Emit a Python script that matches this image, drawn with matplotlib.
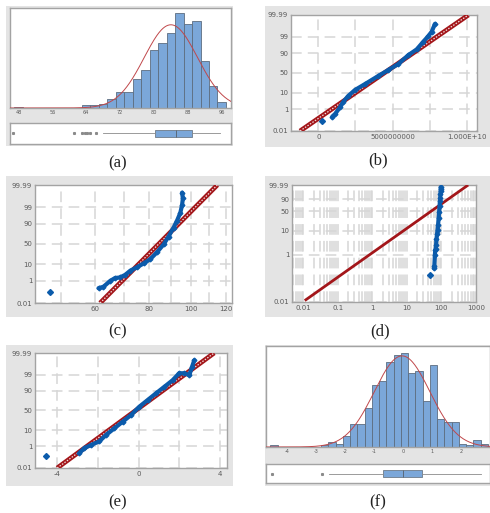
import numpy as np
import matplotlib
matplotlib.use("Agg")
import matplotlib.pyplot as plt
from matplotlib.patches import Rectangle
from matplotlib.ticker import NullFormatter, NullLocator, LogLocator
from statistics import NormalDist

# ---------------- data ----------------
# (a) histogram of the raw sample
a_bin_left = [47, 63, 65, 67, 69, 71, 73, 75, 77, 79, 81, 83, 85, 87, 89, 91, 93, 95]
a_counts = [1, 2, 2, 3, 7, 12, 12, 22, 29, 45, 50, 58, 73, 65, 67, 36, 17, 5]
a_bin_width = 2.0
a_fit_mean, a_fit_sd = 84.0, 6.3
a_xticks = [48, 56, 64, 72, 80, 88, 96]
a_box = {"whislo": 67.9, "q1": 80.2, "med": 85.1, "q3": 89.1, "whishi": 95.5}
a_outliers = [46.8, 61.2, 63.0, 63.8, 64.3, 64.9, 66.4]

# (b) normal probability plot (transformed sample)
b_outlier_value, b_outlier_pct = 2.3e8, 0.11
b_values = [9.4e8, 1.13e9, 1.46e9, 1.69e9, 2.02e9, 2.47e9, 3.15e9, 4.04e9, 4.72e9,
            5.39e9, 6.07e9, 6.63e9, 7.08e9, 7.41e9, 7.64e9, 7.86e9]
b_pct = [0.26, 0.43, 1.4, 3.3, 7.1, 13.8, 24, 42.5, 57.6, 71.9, 87.5, 93.5, 97.8,
         99.1, 99.6, 99.92]
b_ref_values = [-1.23e9, 1.011e10]
b_ref_pct = [0.01, 99.99]
b_xticks = [0, 5e9, 1e10]
b_xticklabels = ["0", "5000000000", "1.000E+10"]
b_xgrid_minor = [2.5e9, 7.5e9]

# (c) lognormal and (d) Weibull probability plots of the raw sample
cd_outlier_value, cd_outlier_pct = 47.2, 0.135
cd_values = [61.1, 62.7, 65.0, 66.7, 68.5, 70.4, 72.3, 74.9, 77.6, 80.4, 83.3, 86.3,
             88.6, 91.0, 92.7, 94.3, 95.2, 95.6, 95.2]
cd_pct = [0.27, 0.35, 1.0, 1.6, 1.75, 2.6, 4.6, 7.1, 11, 17, 30, 49, 68, 85, 93,
          97.5, 99.3, 99.8, 99.94]
c_ref_values = [61.6, 114.8]
c_ref_pct = [0.01, 99.99]
c_xticks = [60, 80, 100, 120]
c_xgrid_minor = [50, 70, 90, 110]
d_ref_values = [0.011, 600]
d_ref_pct = [0.0115, 99.99]
d_xticks = [0.01, 0.1, 1, 10, 100, 1000]
d_xticklabels = ["0.01", "0.1", "1", "10", "100", "1000"]

# (e) normal probability plot of the standardized sample
e_outlier_value, e_outlier_pct = -4.54, 0.15
e_values = [-2.91, -2.66, -2.33, -1.93, -1.60, -1.19, -0.78, -0.37, 0.03, 0.44, 0.85,
            1.26, 1.67, 1.99, 2.24, 2.49, 2.62, 2.73]
e_pct = [0.3, 0.75, 1.3, 2.3, 5.7, 12.5, 23.6, 38.6, 59.5, 75, 86.6, 93.7, 97.5,
         99.2, 99.2, 98.9, 99.76, 99.94]
e_ref_values = [-4.0, 3.71]
e_ref_pct = [0.01, 99.99]
e_xticks = [-4, 0, 4]

# (f) histogram of the standardized sample
f_bin_left = [-4.57, -4.32, -4.07, -3.82, -3.57, -3.32, -3.07, -2.82, -2.57, -2.32,
              -2.07, -1.82, -1.57, -1.32, -1.07, -0.82, -0.57, -0.32, -0.07, 0.18,
              0.43, 0.68, 0.93, 1.18, 1.43, 1.68, 1.93, 2.18, 2.43, 2.68]
f_counts = [1, 0, 0, 0, 0, 0, 0, 1, 3, 2, 7, 14, 14, 24, 38, 40, 52, 56, 57, 45,
            46, 28, 50, 17, 15, 15, 2, 1, 4, 2]
f_bin_width = 0.25
f_fit_mean, f_fit_sd = -0.03, 0.96
f_xticks = [-4, -3, -2, -1, 0, 1, 2]
f_box = {"whislo": -2.56, "q1": -0.69, "med": 0.0, "q3": 0.665, "whishi": 2.69}
f_outliers = [-4.5, -2.78]

normal_pct_ticks = [0.01, 1, 10, 50, 90, 99, 99.99]
normal_pct_labels = ["0.01", "1", "10", "50", "90", "99", "99.99"]
weibull_pct_ticks = [0.01, 1, 10, 50, 90, 99.99]
weibull_pct_labels = ["0.01", "1", "10", "50", "90", "99.99"]

# ---------------- style ----------------
W, H = 490, 513
BG = "#e4e4e4"
BAR = "#7ba7d9"
BAR_EDGE = "#5d6d80"
CURVE = "#c0474a"
BLUE = "#0b5bab"
RED = "#a3161a"
GRID = "#d6d6d6"
SPINE = "#a3a3a3"
TICKC = "#5a5a5a"

fig = plt.figure(figsize=(W / 100, H / 100), dpi=100)
fig.patch.set_facecolor("white")


def rect(x0, y0, x1, y1):
    return [x0 / W, 1 - y1 / H, (x1 - x0) / W, (y1 - y0) / H]


def background(x0, y0, x1, y1):
    r = rect(x0, y0, x1, y1)
    fig.add_artist(Rectangle((r[0], r[1]), r[2], r[3], transform=fig.transFigure,
                             facecolor=BG, edgecolor="none", zorder=-10))


def label(x, y, s):
    fig.text(x / W, 1 - y / H, s, ha="center", va="center", fontsize=12,
             family=["Liberation Serif", "DejaVu Serif"], color="#222222")


_std = NormalDist()


def p2z(p):
    p = np.clip(np.asarray(p, dtype=float), 1e-6, 100 - 1e-6)
    return np.vectorize(lambda v: _std.inv_cdf(v / 100.0), otypes=[float])(p)


def z2p(z):
    z = np.asarray(z, dtype=float)
    return np.vectorize(lambda v: 100.0 * _std.cdf(v), otypes=[float])(z)


def p2w(p):
    q = np.clip(np.asarray(p, dtype=float) / 100.0, 1e-9, 1 - 1e-9)
    return np.log(-np.log1p(-q))


def w2p(w):
    w = np.clip(np.asarray(w, dtype=float), -50, 5)
    return 100.0 * (-np.expm1(-np.exp(w)))


def style_axes(ax, labelsize):
    ax.set_facecolor("white")
    for sp in ax.spines.values():
        sp.set_color(SPINE)
        sp.set_linewidth(1.0)
    ax.tick_params(which="both", length=0, labelsize=labelsize, labelcolor=TICKC, pad=2)


def hist_panel(bg, hrect, brect, left, counts, width, mean, sd, xlim, ytop, xticks,
               box, outliers, box_width):
    background(*bg)
    ax = fig.add_axes(rect(*hrect))
    style_axes(ax, 3.6)
    ax.bar(left, counts, width=width, align="edge", color=BAR, edgecolor=BAR_EDGE,
           linewidth=0.6, zorder=2)
    nd = NormalDist(mean, sd)
    xs = np.linspace(xlim[0], xlim[1], 400)
    total = sum(counts)
    ys = [total * width * nd.pdf(x) for x in xs]
    ax.plot(xs, ys, color=CURVE, lw=0.7, zorder=3)
    ax.set_xlim(*xlim)
    ax.set_ylim(0, ytop)
    ax.set_yticks([])
    ax.set_xticks(xticks, [str(t) for t in xticks])
    ax.tick_params(pad=1.5)

    bx = fig.add_axes(rect(*brect))
    style_axes(bx, 4)
    stats = dict(box)
    stats["fliers"] = outliers
    bx.bxp([stats], positions=[1], widths=box_width, orientation="horizontal",
           patch_artist=True, showcaps=False,
           boxprops=dict(facecolor=BAR, edgecolor="#6d7a88", linewidth=0.6),
           medianprops=dict(color="#55606c", linewidth=0.6),
           whiskerprops=dict(color="#8a8a8a", linewidth=0.6),
           flierprops=dict(marker="s", markersize=1.2, markerfacecolor="#8a8a8a",
                           markeredgecolor="#8a8a8a"))
    bx.set_xlim(*xlim)
    bx.set_ylim(0.5, 1.5)
    bx.set_xticks([])
    bx.set_yticks([])


def prob_axes(r, funcs, yticks, ylabels):
    ax = fig.add_axes(rect(*r))
    style_axes(ax, 5)
    ax.set_yscale("function", functions=funcs)
    ax.set_ylim(0.01, 99.99)
    ax.set_yticks(yticks, ylabels)
    ax.yaxis.set_minor_locator(NullLocator())
    ax.set_axisbelow(True)
    return ax


def grid(ax):
    ax.grid(True, which="both", color=GRID, lw=1.1, ls=(0, (7, 4)))


def ref_line(ax, xs, ps, lw=3.4, hatched=True):
    ax.plot(xs, ps, color=RED, lw=lw, solid_capstyle="butt", zorder=3)
    if hatched:
        ax.plot(xs, ps, color="white", lw=0.9, dashes=(1.2, 1.2), alpha=0.85, zorder=3)


def points(ax, xs, ps, ox, op):
    ax.plot(xs, ps, "-", color=BLUE, lw=3.0, solid_capstyle="round",
            solid_joinstyle="round", zorder=4)
    ax.plot(xs, ps, "D", color=BLUE, ms=2.4, zorder=4)
    ax.plot([ox], [op], "D", color=BLUE, ms=3.0, zorder=4)


# ---------------- (a) ----------------
hist_panel((6, 6, 233, 146), (10, 8, 231, 108), (10, 123, 231, 144),
           a_bin_left, a_counts, a_bin_width, a_fit_mean, a_fit_sd, (46.0, 98.2), 77,
           a_xticks, a_box, a_outliers, 0.33)
label(118, 163, "(a)")

# ---------------- (b) ----------------
background(265, 6, 490, 147)
axb = prob_axes((291, 15, 477, 131), (p2z, z2p), normal_pct_ticks, normal_pct_labels)
axb.set_xlim(-1.84e9, 1.069e10)
axb.set_xticks(b_xticks, b_xticklabels)
axb.set_xticks(b_xgrid_minor, minor=True)
grid(axb)
ref_line(axb, b_ref_values, b_ref_pct)
points(axb, b_values, b_pct, b_outlier_value, b_outlier_pct)
label(378, 160, "(b)")

# ---------------- (c) ----------------
background(6, 176, 233, 317)
axc = prob_axes((35, 185, 232, 303), (p2z, z2p), normal_pct_ticks, normal_pct_labels)
axc.set_xscale("log")
axc.set_xlim(43.6, 124.1)
axc.set_xticks(c_xticks, [str(t) for t in c_xticks])
axc.set_xticks(c_xgrid_minor, minor=True)
axc.xaxis.set_minor_formatter(NullFormatter())
grid(axc)
ref_line(axc, c_ref_values, c_ref_pct)
points(axc, cd_values, cd_pct, cd_outlier_value, cd_outlier_pct)
label(118, 331, "(c)")

# ---------------- (d) ----------------
background(265, 176, 490, 317)
axd = prob_axes((292, 185, 476, 302), (p2w, w2p), weibull_pct_ticks, weibull_pct_labels)
axd.set_xscale("log")
axd.set_xlim(0.0047, 1010)
axd.set_xticks(d_xticks, d_xticklabels)
axd.xaxis.set_minor_locator(LogLocator(base=10, subs=np.arange(2, 10)))
axd.xaxis.set_minor_formatter(NullFormatter())
grid(axd)
ref_line(axd, d_ref_values, d_ref_pct, lw=2.0, hatched=False)
points(axd, cd_values, cd_pct, cd_outlier_value, cd_outlier_pct)
label(380, 331, "(d)")

# ---------------- (e) ----------------
background(6, 345, 233, 486)
axe = prob_axes((35, 353, 227, 468), (p2z, z2p), normal_pct_ticks, normal_pct_labels)
axe.set_xlim(-5.09, 4.34)
axe.set_xticks(e_xticks, [str(t) for t in e_xticks])
axe.set_xticks([-2, 2], minor=True)
grid(axe)
ref_line(axe, e_ref_values, e_ref_pct)
points(axe, e_values, e_pct, e_outlier_value, e_outlier_pct)
label(118, 502, "(e)")

# ---------------- (f) ----------------
hist_panel((265, 345, 490, 486), (266, 346, 490, 447), (266, 464, 490, 483),
           f_bin_left, f_counts, f_bin_width, f_fit_mean, f_fit_sd, (-4.72, 3.0), 61.5,
           f_xticks, f_box, f_outliers, 0.42)
label(378, 502, "(f)")

fig.savefig("out.png", dpi=100, facecolor="white")
